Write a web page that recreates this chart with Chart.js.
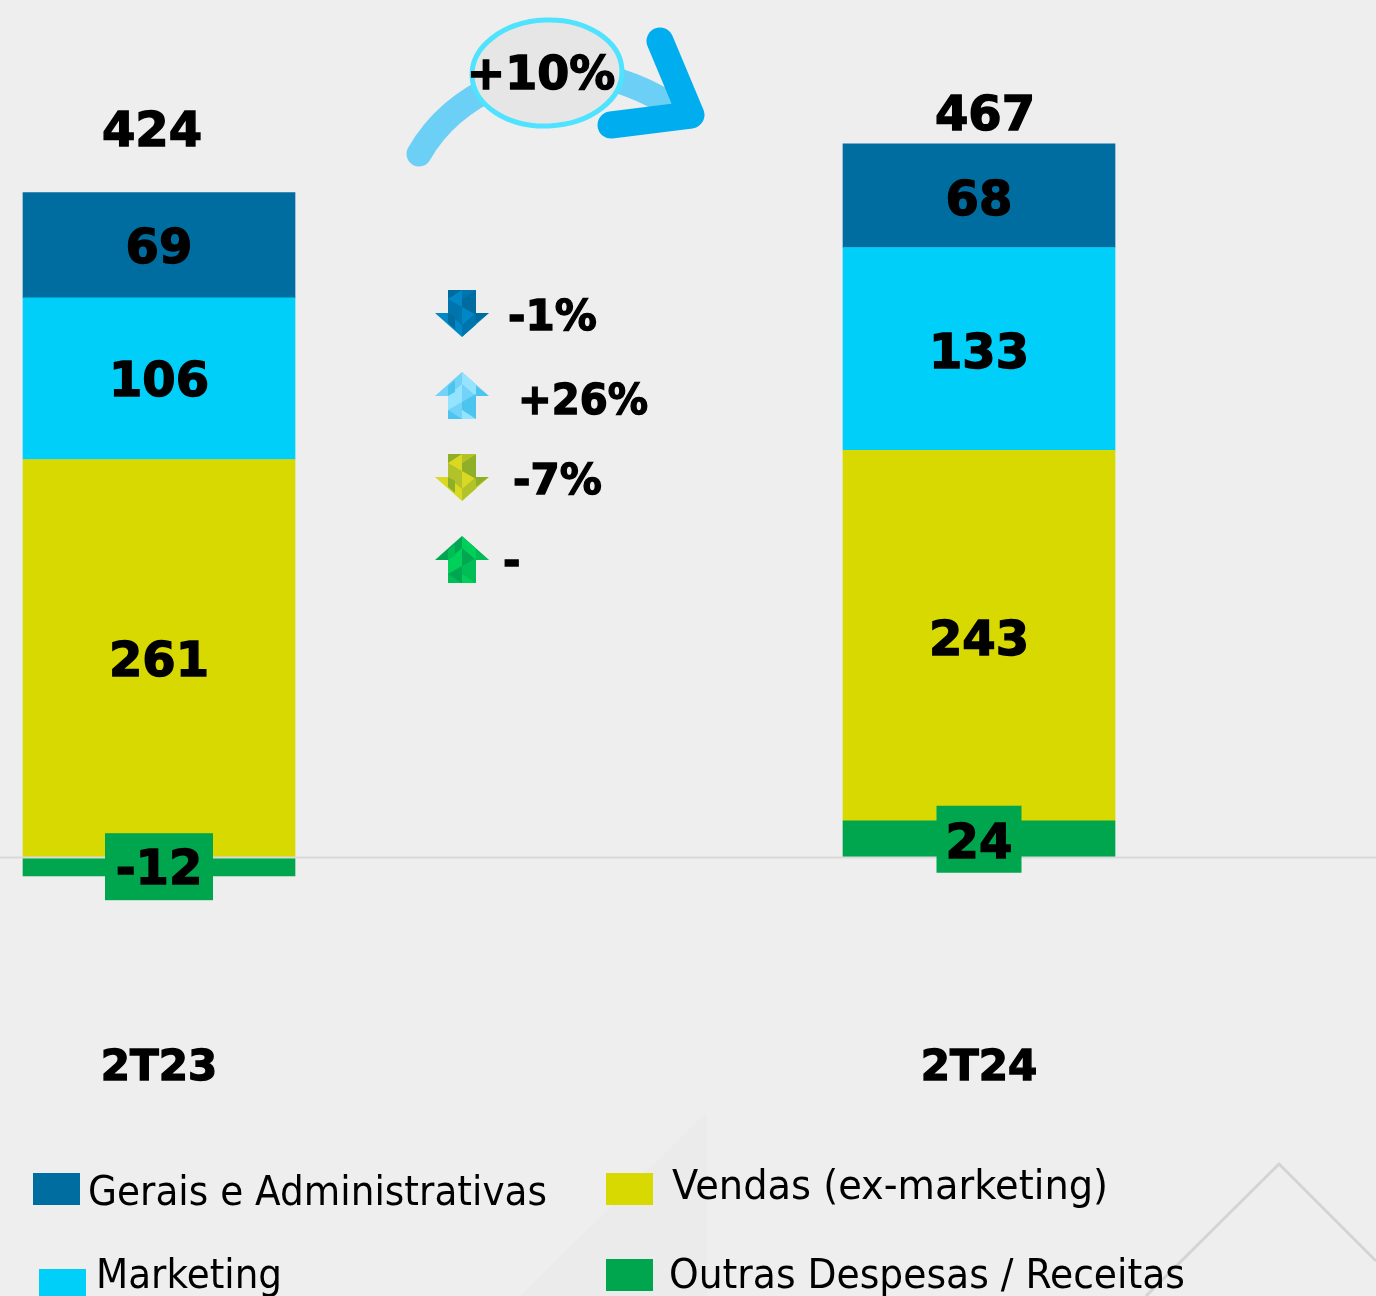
<!DOCTYPE html>
<html>
<head>
<meta charset="utf-8">
<script src="https://cdn.jsdelivr.net/npm/chart.js@4"></script>
<style>
  html, body { margin: 0; padding: 0; background: #eeeeee; overflow: hidden; }
  canvas { display: block; }
</style>
</head>
<body>
<canvas id="myChart" width="1376" height="1296"></canvas>
<script>
const categories = ['2T23', '2T24'];
const outras = [-12, 24];
const vendas = [261, 243];
const marketing = [106, 133];
const gerais = [69, 68];
const totals = [424, 467];
const growth = '+10%';
const deltas = ['-1%', '+26%', '-7%', '-'];

const BOLD = "bold 48px 'DejaVu Sans'";
const corBg = '#eeeeee';

function poly(c, pts, fill) {
  c.beginPath();
  pts.forEach((p, i) => i ? c.lineTo(p[0], p[1]) : c.moveTo(p[0], p[1]));
  c.closePath();
  c.fillStyle = fill;
  c.fill();
}

// texto com traco fino, o bold original e mais pesado que o DejaVu
function textoForte(c, txt, x, y, maxW) {
  c.lineWidth = 1.4;
  c.strokeStyle = '#000';
  c.lineJoin = 'miter';
  if (maxW) {
    c.fillText(txt, x, y, maxW);
    c.strokeText(txt, x, y, maxW);
  } else {
    c.fillText(txt, x, y);
    c.strokeText(txt, x, y);
  }
}

// seta pequena com facetas, desenhada apontando para cima e invertida quando desce
function seta(c, yTop, up, cores) {
  c.save();
  c.translate(435, yTop);
  if (!up) { c.translate(0, 47); c.scale(1, -1); }
  c.beginPath();
  [[27, 0], [54, 24], [41, 24], [41, 47], [13, 47], [13, 24], [0, 24]].forEach((p, i) => i ? c.lineTo(p[0], p[1]) : c.moveTo(p[0], p[1]));
  c.closePath();
  c.fillStyle = cores[0];
  c.fill();
  c.clip();
  poly(c, [[13, 24], [27, 12], [27, 30], [13, 38]], cores[1]);
  poly(c, [[27, 0], [41, 12], [41, 24], [27, 12]], cores[1]);
  poly(c, [[27, 30], [41, 22], [41, 47], [27, 38]], cores[2]);
  poly(c, [[13, 38], [27, 47], [13, 47]], cores[2]);
  poly(c, [[41, 14], [54, 24], [41, 24]], cores[2]);
  poly(c, [[13, 14], [20, 8], [20, 20], [13, 24]], cores[2]);
  poly(c, [[27, 38], [41, 47], [27, 47]], cores[1]);
  c.restore();
}

// fundo e marcas d'agua
const fundo = {
  id: 'fundo',
  beforeDraw(chart) {
    const c = chart.ctx;
    c.save();
    c.fillStyle = corBg;
    c.fillRect(0, 0, 1376, 1296);
    poly(c, [[707, 1112], [707, 1296], [520, 1296]], '#ebebeb');
    c.strokeStyle = '#d4d4d4';
    c.lineWidth = 3;
    c.beginPath();
    c.moveTo(1146, 1296);
    c.lineTo(1279, 1164);
    c.lineTo(1376, 1261);
    c.stroke();
    c.restore();
  }
};

const rotulos = {
  id: 'rotulos',
  afterDatasetsDraw(chart) {
    const c = chart.ctx;
    const xs = chart.scales.x;
    const ys = chart.scales.y;
    c.save();

    // linha do zero
    c.strokeStyle = '#d9d9d9';
    c.lineWidth = 2;
    c.beginPath();
    c.moveTo(0, ys.getPixelForValue(0));
    c.lineTo(1376, ys.getPixelForValue(0));
    c.stroke();

    c.textAlign = 'center';
    c.textBaseline = 'middle';
    c.fillStyle = '#000';

    // caixas e valores de cada segmento
    const caixa = [108, 85];
    const descida = [5, 6.5];
    chart.data.datasets.forEach((ds, d) => {
      const meta = chart.getDatasetMeta(d);
      meta.data.forEach((bar, i) => {
        const mid = (bar.y + bar.base) / 2;
        const txt = String(ds.data[i]);
        c.font = BOLD;
        if (d === 0) {
          c.fillStyle = ds.backgroundColor;
          c.fillRect(bar.x - caixa[i] / 2, mid - 33.5, caixa[i], 67);
          c.fillStyle = '#000';
        }
        textoForte(c, txt, bar.x, mid + descida[i]);
      });
    });

    // totais acima das barras
    const topo = chart.getDatasetMeta(3).data;
    const ajusteX = [-7, 6];
    const ajusteY = [-59, -26];
    totals.forEach((t, i) => {
      c.font = BOLD;
      textoForte(c, String(t), topo[i].x + ajusteX[i], topo[i].y + ajusteY[i]);
    });

    // categorias
    c.font = "bold 42px 'DejaVu Sans'";
    categories.forEach((lab, i) => textoForte(c, lab, xs.getPixelForValue(i), 1069));

    // seta curva de crescimento
    c.lineCap = 'round';
    c.lineJoin = 'round';
    c.strokeStyle = '#6ccff6';
    c.lineWidth = 25;
    c.beginPath();
    c.moveTo(419, 154);
    c.quadraticCurveTo(445, 108, 500, 84);
    c.stroke();
    c.beginPath();
    c.moveTo(600, 76);
    c.quadraticCurveTo(645, 86, 680, 112);
    c.stroke();
    c.strokeStyle = '#00aeef';
    c.lineWidth = 27;
    c.beginPath();
    c.moveTo(660, 41);
    c.lineTo(691, 115);
    c.lineTo(611, 125);
    c.stroke();
    poly(c, [[672, 106], [693, 100], [693, 125], [660, 122]], '#00aeef');
    c.beginPath();
    c.ellipse(547, 73, 75, 53, -0.04, 0, Math.PI * 2);
    c.fillStyle = '#e6e6e6';
    c.fill();
    c.strokeStyle = '#4fe3ff';
    c.lineWidth = 5;
    c.stroke();
    c.fillStyle = '#000';
    c.font = BOLD.replace('48px', '46px');
    textoForte(c, growth, 541, 77);

    // variacoes por linha
    seta(c, 290, false, ['#0087c6', '#0074ad', '#006b9f']);
    seta(c, 372, true, ['#72d2f8', '#94e4ff', '#4cc5ee']);
    seta(c, 454, false, ['#d9d822', '#b2c22b', '#8fb026']);
    seta(c, 536, true, ['#00a651', '#00d05a', '#00bd55']);
    c.textAlign = 'left';
    c.fillStyle = '#000';
    c.font = "bold 42px 'DejaVu Sans'";
    const dx = [508, 518, 513, 503];
    const dy = [319, 403, 483, 564];
    const dw = [90, 130, 91, 18];
    deltas.forEach((t, i) => textoForte(c, t, dx[i], dy[i], dw[i]));

    // legenda
    const lx = [33, 39, 606, 606];
    const ly = [1173, 1269, 1173, 1259];
    const tx = [88, 96, 672, 669];
    const by = [1205, 1288, 1199, 1288];
    const tw = [459, 186, 436, 516];
    [3, 2, 1, 0].forEach((d, i) => {
      const ds = chart.data.datasets[d];
      c.fillStyle = ds.backgroundColor;
      c.fillRect(lx[i], ly[i], 47, 32);
      c.fillStyle = '#000';
      c.textBaseline = 'alphabetic';
      c.font = "40px 'DejaVu Sans'";
      c.fillText(ds.label, tx[i], by[i], tw[i]);
    });
    c.restore();
  }
};

const ctx = document.getElementById('myChart');
new Chart(ctx, {
  type: 'bar',
  data: {
    labels: categories,
    datasets: [
      { label: 'Outras Despesas / Receitas', data: outras, backgroundColor: '#00a64d' },
      { label: 'Vendas (ex-marketing)', data: vendas, backgroundColor: '#d8d900' },
      { label: 'Marketing', data: marketing, backgroundColor: '#00cffa' },
      { label: 'Gerais e Administrativas', data: gerais, backgroundColor: '#006da1' }
    ]
  },
  plugins: [fundo, rotulos],
  options: {
    responsive: false,
    animation: false,
    layout: { padding: { left: 159, right: 397, top: 0, bottom: 0 } },
    datasets: { bar: { barThickness: 272, clip: false, borderWidth: 0 } },
    scales: {
      x: {
        stacked: true,
        offset: false,
        display: false,
        grid: { display: false }
      },
      y: {
        stacked: true,
        display: false,
        min: -287.5,
        max: 562.3
      }
    },
    plugins: {
      legend: { display: false },
      tooltip: { enabled: false }
    }
  }
});
</script>
</body>
</html>
